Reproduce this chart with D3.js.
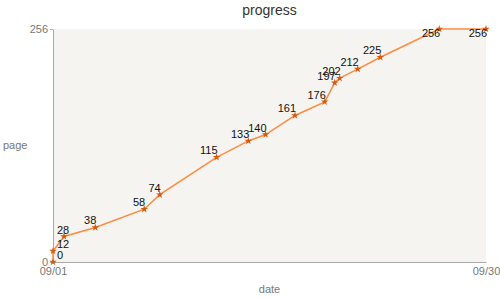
<!DOCTYPE html>
<html>
<head>
<meta charset="utf-8">
<script src="https://cdn.jsdelivr.net/npm/d3@7"></script>
<style>
  body { margin: 0; background: #fff; }
  svg { font-family: "Liberation Sans", Arial, sans-serif; }
  .axis path, .axis line { stroke: #aaa; }
  .axis text { fill: #777; font-size: 11px; }
</style>
</head>
<body>
<svg width="500" height="300"></svg>
<script>
// progress data: timestamps and pages read
var dates = [
  "2013-09-01T00:00", "2013-09-01T00:00", "2013-09-01T17:45", "2013-09-03T20:00",
  "2013-09-07T02:40", "2013-09-08T03:35", "2013-09-11T23:00", "2013-09-14T02:00",
  "2013-09-15T05:45", "2013-09-17T05:00", "2013-09-19T04:50", "2013-09-19T20:50",
  "2013-09-20T04:50", "2013-09-21T09:50", "2013-09-22T22:05", "2013-09-26T20:50",
  "2013-09-30T00:00"
];
var pages = [0, 12, 28, 38, 58, 74, 115, 133, 140, 161, 176, 197, 202, 212, 225, 256, 256];
var yTicks = [0, 256];

var svg = d3.select("svg"),
    margin = {top: 29, right: 14, bottom: 38, left: 53},
    width = 500 - margin.left - margin.right,
    height = 300 - margin.top - margin.bottom;

var parse = d3.timeParse("%Y-%m-%dT%H:%M");
var data = dates.map(function(d, i){ return {date: parse(d), page: pages[i]} });

var x = d3.scaleTime()
    .domain(d3.extent(data, function(d){ return d.date }))
    .range([0, width]);

var y = d3.scaleLinear()
    .domain([0, 256])
    .range([height, 0]);

var g = svg.append("g")
    .attr("transform", "translate(" + margin.left + "," + margin.top + ")");

// plot background
g.append("rect")
    .attr("width", width)
    .attr("height", height)
    .attr("fill", "#f5f4f0");

// axes
g.append("g")
    .attr("class", "axis")
    .attr("transform", "translate(0," + height + ")")
    .call(d3.axisBottom(x)
        .tickValues(x.domain())
        .tickFormat(d3.timeFormat("%m/%d"))
        .tickSize(0)
        .tickPadding(5))
  .call(function(s){ s.selectAll(".tick line").remove() });

g.append("g")
    .attr("class", "axis")
    .call(d3.axisLeft(y)
        .tickValues(yTicks)
        .tickSize(3)
        .tickSizeOuter(0)
        .tickPadding(2));

// line
g.append("path")
    .datum(data)
    .attr("fill", "none")
    .attr("stroke", "#ff8b40")
    .attr("stroke-width", 1.5)
    .attr("d", d3.line()
        .x(function(d){ return x(d.date) })
        .y(function(d){ return y(d.page) }));

// points
g.selectAll(".pt")
    .data(data)
    .enter()
    .append("path")
      .attr("class", "pt")
      .attr("transform", function(d){ return "translate(" + x(d.date) + "," + y(d.page) + ")" })
      .attr("d", d3.symbol().type(d3.symbolStar).size(18))
      .attr("fill", "#d45a10");

// value labels, kept inside the plot area
g.selectAll(".lbl")
    .data(data)
    .enter()
    .append("text")
      .attr("class", "lbl")
      .attr("text-anchor", "end")
      .attr("font-size", "11px")
      .attr("fill", "#111")
      .text(function(d){ return d.page })
      .each(function(d){
        var w = this.getComputedTextLength();
        var px = Math.max(x(d.date) + 1, w + 4);
        var py = Math.max(y(d.page) - 3, 8);
        d3.select(this).attr("x", px).attr("y", py);
      });

// titles
svg.append("text")
    .attr("x", margin.left + width / 2)
    .attr("y", 15)
    .attr("text-anchor", "middle")
    .attr("font-size", "14px")
    .attr("fill", "#333")
    .text("progress");

svg.append("text")
    .attr("x", 3)
    .attr("y", margin.top + height / 2 + 3)
    .attr("font-size", "11px")
    .attr("fill", "#777")
    .text("page");

svg.append("text")
    .attr("x", margin.left + width / 2)
    .attr("y", 293)
    .attr("text-anchor", "middle")
    .attr("font-size", "11px")
    .attr("fill", "#777")
    .text("date");
</script>
</body>
</html>
